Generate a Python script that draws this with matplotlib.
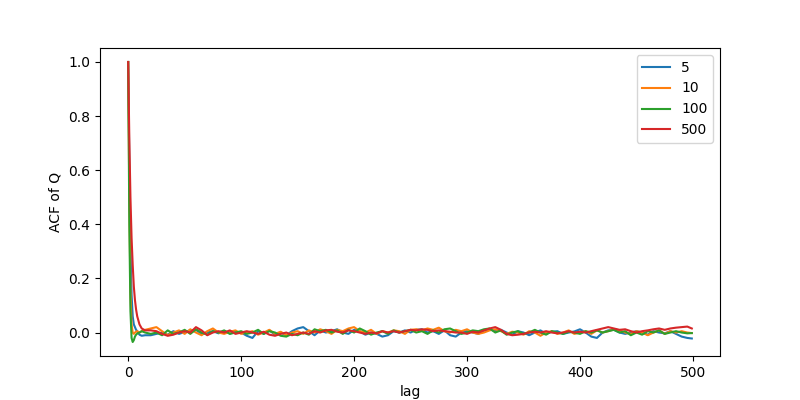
import numpy as np
import matplotlib
matplotlib.use("Agg")
import matplotlib.pyplot as plt

# lags: dense at the start, then every 5
early_lags = [0, 1, 2, 3, 4, 5, 6, 7, 8, 10, 12, 15]
tail_lags = list(range(20, 500, 5)) + [499]
lags = early_lags + tail_lags

labels = ["5", "10", "100", "500"]

acf_5 = [1.0, 0.62, 0.32, 0.14, 0.06, 0.03, 0.02, 0.01, 0.005, -0.008, -0.012, -0.01,
         -0.01, -0.005, 0.0, -0.008, 0.005, -0.005, 0.002, 0.008, 0.01, -0.005, 0.0, 0.005,
         -0.003, 0.006, -0.004, 0.003, 0.0, -0.012, -0.02, 0.005, -0.005, 0.008, -0.008, 0.0,
         -0.01, 0.005, 0.015, 0.02, 0.005, -0.01, 0.008, 0.0, 0.005, 0.012, 0.0, -0.005,
         0.01, 0.005, -0.008, 0.0, -0.005, -0.015, -0.01, 0.005, 0.0, 0.008, 0.0, 0.01,
         0.012, 0.0, 0.005, -0.005, 0.008, -0.01, -0.015, 0.0, 0.005, 0.0, -0.005, 0.008,
         0.012, 0.005, 0.01, 0.0, -0.008, 0.005, 0.0, -0.01, 0.0, 0.008, -0.005, 0.003,
         0.005, -0.005, 0.0, 0.004, 0.012, 0.0, -0.015, -0.02, 0.0, 0.008, 0.01, 0.0,
         -0.005, 0.0, 0.005, 0.0, -0.008, 0.005, 0.0, -0.003, 0.005, -0.005, -0.015, -0.02,
         -0.022]

acf_10 = [1.0, 0.5, 0.15, 0.03, 0.0, -0.005, 0.0, 0.003, 0.005, 0.0, 0.005, 0.01,
          0.015, 0.02, 0.005, -0.01, 0.0, 0.008, -0.005, 0.012, 0.0, -0.01, 0.005, 0.015,
          0.0, -0.005, 0.003, 0.008, -0.005, 0.0, 0.005, -0.008, 0.0, 0.01, -0.005, 0.003,
          -0.01, 0.0, 0.005, -0.005, 0.008, 0.0, 0.012, 0.005, -0.005, 0.01, 0.005, 0.015,
          0.02, 0.005, 0.0, 0.01, -0.005, 0.005, 0.0, 0.008, 0.005, -0.005, 0.01, 0.012,
          0.008, 0.015, 0.01, 0.018, 0.005, 0.0, 0.01, 0.005, 0.012, 0.0, -0.005, 0.0,
          0.008, 0.012, 0.005, -0.005, 0.003, 0.0, -0.008, 0.005, 0.0, -0.012, 0.0, 0.005,
          -0.005, 0.0, 0.008, -0.005, 0.0, 0.005, -0.005, 0.008, 0.0, 0.005, 0.012, 0.008,
          0.0, -0.005, 0.005, 0.0, -0.01, 0.0, 0.008, -0.005, 0.005, 0.0, 0.005, 0.0,
          -0.002]

acf_100 = [1.0, 0.4, 0.08, -0.02, -0.035, -0.028, -0.015, -0.008, -0.004, 0.0, 0.005, 0.0,
           -0.005, 0.0, -0.01, 0.008, -0.005, 0.0, 0.01, -0.005, 0.012, 0.0, -0.008, 0.005,
           0.0, 0.008, -0.005, 0.0, 0.005, -0.005, 0.0, 0.01, -0.005, 0.005, 0.0, -0.012,
           -0.015, -0.005, -0.01, 0.0, -0.008, 0.012, 0.005, 0.01, 0.0, 0.008, -0.005, 0.01,
           0.0, 0.015, 0.005, -0.008, 0.0, 0.005, -0.005, 0.008, 0.0, 0.005, 0.01, 0.0,
           0.005, -0.005, 0.008, 0.0, 0.012, 0.015, 0.005, -0.005, 0.0, 0.008, 0.005, 0.012,
           0.015, 0.0, 0.008, -0.008, 0.0, 0.005, -0.005, 0.0, 0.01, 0.0, -0.008, 0.005,
           0.0, -0.005, 0.003, 0.0, -0.005, 0.005, 0.0, 0.008, 0.0, 0.005, 0.01, 0.0,
           0.005, -0.01, 0.0, -0.008, 0.005, 0.0, 0.008, -0.005, 0.0, 0.005, 0.0, -0.003,
           -0.002]

acf_500 = [1.0, 0.72, 0.5, 0.35, 0.25, 0.17, 0.12, 0.085, 0.06, 0.03, 0.015, 0.008,
           0.008, 0.005, -0.005, -0.012, -0.008, 0.0, 0.005, 0.0, 0.02, 0.008, -0.01, 0.0,
           0.005, 0.0, 0.008, -0.005, 0.0, 0.005, 0.0, -0.005, 0.003, -0.008, -0.012, -0.005,
           0.0, -0.01, -0.005, 0.0, -0.005, 0.005, 0.0, 0.008, 0.01, 0.003, 0.0, 0.008,
           0.005, 0.0, -0.005, 0.0, -0.003, 0.005, 0.0, 0.005, 0.0, 0.005, 0.01, 0.008,
           0.012, 0.01, 0.005, 0.008, 0.005, 0.003, 0.0, 0.0, -0.005, 0.003, 0.0, 0.008,
           0.015, 0.02, 0.01, -0.005, -0.01, -0.008, -0.005, 0.0, 0.003, 0.0, 0.005, 0.0,
           -0.003, 0.0, 0.005, 0.0, 0.003, 0.0, 0.005, 0.01, 0.015, 0.02, 0.015, 0.01,
           0.012, 0.005, 0.0, 0.005, 0.008, 0.012, 0.015, 0.01, 0.015, 0.018, 0.02, 0.022,
           0.015]

fig, ax = plt.subplots(figsize=(8, 4), dpi=100)
for vals, lab in zip([acf_5, acf_10, acf_100, acf_500], labels):
    ax.plot(lags, vals, label=lab)
ax.set_xlabel("lag")
ax.set_ylabel("ACF of Q")
ax.legend(loc="upper right")
fig.savefig("out.png", dpi=100)
